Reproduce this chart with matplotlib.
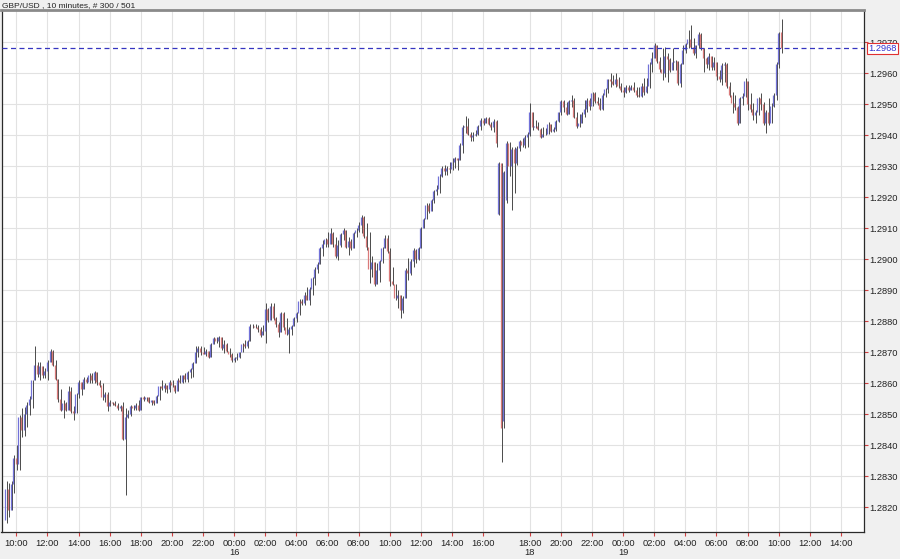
import matplotlib
matplotlib.use("Agg")
import matplotlib.pyplot as plt
import matplotlib.transforms as mtransforms
import numpy as np
import pandas as pd

plt.rcParams['font.family'] = ['Liberation Sans', 'DejaVu Sans']

# ---------------- data ----------------
title_text = "GBP/USD , 10 minutes, # 300 / 501"
session_starts = ["2018-11-15 09:20", "2018-11-18 16:00"]
session_lengths = [190, 110]
future_slots = 31          # empty slots shown to the right of the last bar
last_price = 1.2968
y_ticks = [1.2820, 1.2830, 1.2840, 1.2850, 1.2860, 1.2870, 1.2880, 1.2890,
           1.2900, 1.2910, 1.2920, 1.2930, 1.2940, 1.2950, 1.2960, 1.2970]

opens = [
 1.2816, 1.2826, 1.2819, 1.28275, 1.2836, 1.2834, 1.2849, 1.2845, 1.2850, 1.2853,
 1.2855, 1.2861, 1.2866, 1.2863, 1.28655, 1.28625, 1.2864, 1.2867, 1.28705, 1.2866,
 1.28615, 1.2855, 1.28515, 1.28535, 1.28515, 1.28575, 1.2851, 1.28505, 1.28565, 1.28605,
 1.2858, 1.28615, 1.28605, 1.28625, 1.2861, 1.28635, 1.28605, 1.28595, 1.28555, 1.28565,
 1.28525, 1.2854, 1.28535, 1.2853, 1.2852, 1.28525, 1.2842, 1.2849, 1.2850, 1.28525,
 1.2852, 1.2853, 1.28515, 1.28555, 1.2855, 1.28555, 1.2854, 1.28545, 1.28535, 1.2856,
 1.2859, 1.28585, 1.28595, 1.2858, 1.28605, 1.28595, 1.28575, 1.2861, 1.28605, 1.28625,
 1.28615, 1.28635, 1.28645, 1.28665, 1.2870, 1.28715, 1.2870, 1.28695, 1.28705, 1.28685,
 1.28725, 1.28745, 1.28735, 1.2875, 1.28715, 1.28725, 1.28705, 1.28695, 1.28675, 1.2868,
 1.28685, 1.2870, 1.28725, 1.2872, 1.28735, 1.28785, 1.28785, 1.2878, 1.28775, 1.28755,
 1.2877, 1.2884, 1.28805, 1.2885, 1.2881, 1.2879, 1.28765, 1.28825, 1.2878, 1.2876,
 1.28775, 1.28785, 1.2881, 1.28825, 1.28865, 1.2886, 1.28885, 1.2887, 1.28905, 1.2894,
 1.2897, 1.28985, 1.29035, 1.2905, 1.29065, 1.2905, 1.29085, 1.2905, 1.2901, 1.29045,
 1.2908, 1.29095, 1.2904, 1.2906, 1.29035, 1.29085, 1.29095, 1.2911, 1.29135, 1.29075,
 1.2904, 1.2897, 1.2899, 1.2892, 1.28965, 1.28995, 1.29035, 1.2907, 1.29025, 1.2893,
 1.2892, 1.28875, 1.28885, 1.28835, 1.28875, 1.28965, 1.28955, 1.28995, 1.2903, 1.2900,
 1.29035, 1.2910, 1.2913, 1.29175, 1.29155, 1.2919, 1.2922, 1.29225, 1.2927, 1.29295,
 1.29285, 1.29295, 1.2929, 1.29315, 1.29325, 1.2932, 1.2937, 1.29425, 1.2943, 1.29405,
 1.29395, 1.2940, 1.29405, 1.2943, 1.2945, 1.2944, 1.29455, 1.29435, 1.29425, 1.29445,
 1.29145, 1.2931, 1.28479, 1.2919, 1.29375, 1.2930, 1.29355, 1.2931, 1.2936, 1.2938,
 1.2937, 1.29395, 1.29405, 1.29475, 1.29425, 1.2943, 1.2942, 1.29395, 1.29405, 1.29405,
 1.29435, 1.29415, 1.2942, 1.29445, 1.29475, 1.2951, 1.2949, 1.2947, 1.2951, 1.29515,
 1.2946, 1.2943, 1.2944, 1.2947, 1.29485, 1.29515, 1.29495, 1.29535, 1.2951, 1.29505,
 1.29485, 1.2953, 1.2955, 1.2958, 1.29575, 1.29565, 1.2958, 1.2956, 1.29545, 1.2954,
 1.29555, 1.29545, 1.29555, 1.29545, 1.2953, 1.29525, 1.2956, 1.2954, 1.2956, 1.2963,
 1.2965, 1.2969, 1.2964, 1.29615, 1.2960, 1.29655, 1.29645, 1.2961, 1.29635, 1.2964,
 1.2957, 1.2963, 1.29675, 1.29695, 1.2971, 1.29685, 1.29665, 1.2969, 1.29725, 1.2968,
 1.2965, 1.2963, 1.29655, 1.2962, 1.29635, 1.2959, 1.2958, 1.29625, 1.2963, 1.2956,
 1.2953, 1.29505, 1.2949, 1.2944, 1.2952, 1.29525, 1.29575, 1.2950, 1.29485, 1.29465,
 1.29475, 1.2952, 1.2950, 1.2944, 1.29475, 1.2944, 1.29495, 1.2953, 1.2963, 1.29734,
]

highs = [
 1.28283, 1.28277, 1.28283, 1.28369, 1.28401, 1.28498, 1.28519, 1.28523, 1.28541, 1.28559,
 1.28611, 1.2872, 1.2867, 1.28668, 1.28655, 1.28648, 1.28675, 1.2871, 1.28707, 1.28675,
 1.28615, 1.28581, 1.28546, 1.28541, 1.28591, 1.28589, 1.28525, 1.28568, 1.28611, 1.28605,
 1.28621, 1.28621, 1.28632, 1.28632, 1.28641, 1.28635, 1.28611, 1.2860, 1.28573, 1.28573,
 1.28546, 1.28541, 1.28544, 1.28535, 1.2853, 1.28541, 1.28519, 1.28514, 1.2853, 1.2853,
 1.28535, 1.28546, 1.28557, 1.2856, 1.28557, 1.28555, 1.28546, 1.28545, 1.28562, 1.28591,
 1.28611, 1.2860, 1.28595, 1.28611, 1.28611, 1.28595, 1.28616, 1.28625, 1.28627, 1.28632,
 1.28638, 1.28648, 1.2867, 1.2872, 1.2872, 1.2872, 1.28718, 1.28709, 1.28705, 1.28729,
 1.2875, 1.28748, 1.28752, 1.2875, 1.28739, 1.28729, 1.28712, 1.28696, 1.28686, 1.28696,
 1.28702, 1.28729, 1.28739, 1.28739, 1.28791, 1.28791, 1.28791, 1.28788, 1.28782, 1.28788,
 1.2886, 1.28842, 1.28858, 1.28858, 1.28815, 1.28799, 1.28831, 1.28831, 1.28809, 1.28782,
 1.28788, 1.28815, 1.28831, 1.28871, 1.28871, 1.28895, 1.28909, 1.28909, 1.28944, 1.28976,
 1.28992, 1.29041, 1.29062, 1.29068, 1.29089, 1.2910, 1.29089, 1.29073, 1.29062, 1.29084,
 1.29102, 1.29095, 1.29073, 1.29065, 1.29089, 1.2910, 1.29121, 1.29143, 1.29138, 1.29116,
 1.29089, 1.29009, 1.2899, 1.28987, 1.28998, 1.29041, 1.29078, 1.29078, 1.29035, 1.28976,
 1.2892, 1.28901, 1.28885, 1.2888, 1.28971, 1.29003, 1.2900, 1.29035, 1.29032, 1.2904,
 1.29105, 1.29132, 1.29181, 1.29181, 1.29194, 1.29222, 1.2924, 1.29275, 1.29301, 1.29304,
 1.29301, 1.29315, 1.29326, 1.29331, 1.29326, 1.29374, 1.29433, 1.29462, 1.29455, 1.29412,
 1.29412, 1.29417, 1.29433, 1.29455, 1.29455, 1.2946, 1.2946, 1.29444, 1.29452, 1.29449,
 1.29315, 1.2931, 1.29283, 1.2938, 1.29378, 1.29363, 1.29363, 1.29365, 1.29385, 1.2939,
 1.29401, 1.29412, 1.29503, 1.29476, 1.29449, 1.29444, 1.29422, 1.29427, 1.29422, 1.29444,
 1.29437, 1.29427, 1.29449, 1.29476, 1.29513, 1.29515, 1.29508, 1.29513, 1.2953, 1.2952,
 1.29476, 1.2947, 1.29476, 1.29513, 1.2952, 1.2952, 1.2954, 1.29538, 1.29524, 1.29519,
 1.29535, 1.29551, 1.29583, 1.2960, 1.29594, 1.2960, 1.29589, 1.29567, 1.29556, 1.29562,
 1.29562, 1.29562, 1.29573, 1.29556, 1.29556, 1.29567, 1.29584, 1.29584, 1.29637, 1.2967,
 1.29696, 1.2969, 1.29653, 1.2968, 1.29686, 1.29664, 1.29648, 1.2968, 1.29643, 1.2964,
 1.29632, 1.29691, 1.29696, 1.29739, 1.29756, 1.29713, 1.29691, 1.29734, 1.29729, 1.2968,
 1.29653, 1.29664, 1.29655, 1.29653, 1.29635, 1.2961, 1.29632, 1.29637, 1.29632, 1.29573,
 1.29541, 1.2953, 1.29495, 1.29524, 1.29535, 1.29584, 1.29575, 1.29535, 1.29503, 1.29481,
 1.29524, 1.29535, 1.29508, 1.29481, 1.29519, 1.29503, 1.29535, 1.29637, 1.29734, 1.29775,
]

lows = [
 1.28148, 1.2817, 1.2819, 1.28245, 1.2832, 1.2832, 1.28428, 1.2843, 1.2846, 1.28498,
 1.28519, 1.2861, 1.28621, 1.28611, 1.28616, 1.28616, 1.28611, 1.2867, 1.28654, 1.28611,
 1.28541, 1.28509, 1.28487, 1.28509, 1.28514, 1.28503, 1.28482, 1.28505, 1.28552, 1.28562,
 1.2858, 1.2860, 1.2860, 1.2860, 1.2860, 1.28595, 1.28589, 1.28546, 1.28541, 1.28509,
 1.28525, 1.2853, 1.28525, 1.28514, 1.28509, 1.28417, 1.28238, 1.28487, 1.28495, 1.28514,
 1.28514, 1.28509, 1.28515, 1.28544, 1.28544, 1.28535, 1.2853, 1.2853, 1.28535, 1.28546,
 1.28578, 1.28573, 1.2857, 1.28573, 1.28589, 1.28568, 1.28575, 1.2860, 1.2860, 1.28605,
 1.28605, 1.28616, 1.28621, 1.28664, 1.28686, 1.28691, 1.28693, 1.28688, 1.2868, 1.28685,
 1.28725, 1.28729, 1.28718, 1.28707, 1.28696, 1.28702, 1.28686, 1.2867, 1.2867, 1.28675,
 1.2868, 1.2870, 1.28712, 1.28712, 1.28735, 1.28777, 1.28777, 1.28766, 1.2875, 1.28755,
 1.28729, 1.28799, 1.28805, 1.28804, 1.28782, 1.2875, 1.28765, 1.28772, 1.28755, 1.28696,
 1.28755, 1.28785, 1.28799, 1.2882, 1.28852, 1.28852, 1.28868, 1.28852, 1.28885, 1.28917,
 1.28955, 1.28985, 1.29009, 1.29041, 1.29041, 1.2905, 1.29041, 1.29003, 1.28998, 1.29041,
 1.29062, 1.29036, 1.29014, 1.2903, 1.29035, 1.29073, 1.29089, 1.29084, 1.29068, 1.2903,
 1.28922, 1.28944, 1.28912, 1.2892, 1.28928, 1.28987, 1.29035, 1.29019, 1.28912, 1.28917,
 1.28869, 1.28842, 1.2881, 1.28826, 1.28875, 1.28933, 1.2895, 1.28976, 1.28987, 1.28998,
 1.29035, 1.2910, 1.2913, 1.29148, 1.29154, 1.29181, 1.29208, 1.29213, 1.29265, 1.29272,
 1.29272, 1.29277, 1.29288, 1.29294, 1.29288, 1.2932, 1.29342, 1.29406, 1.29401, 1.2938,
 1.2938, 1.29396, 1.29401, 1.29417, 1.29433, 1.29439, 1.29433, 1.29417, 1.29411, 1.29363,
 1.29143, 1.28347, 1.28455, 1.2918, 1.29267, 1.29159, 1.29213, 1.29305, 1.2935, 1.29363,
 1.29358, 1.29363, 1.29396, 1.29417, 1.29422, 1.29417, 1.2939, 1.29393, 1.2940, 1.29405,
 1.29411, 1.2941, 1.29415, 1.29443, 1.29465, 1.29476, 1.29465, 1.29468, 1.29492, 1.29454,
 1.29422, 1.29425, 1.2944, 1.2946, 1.29476, 1.2948, 1.29495, 1.29503, 1.29497, 1.29481,
 1.2948, 1.29524, 1.29535, 1.29556, 1.29562, 1.29556, 1.29551, 1.2954, 1.29524, 1.29535,
 1.2954, 1.29545, 1.2954, 1.29524, 1.29524, 1.29524, 1.2953, 1.29535, 1.29551, 1.29605,
 1.2965, 1.29632, 1.29605, 1.29578, 1.29589, 1.29573, 1.29605, 1.2961, 1.2961, 1.29562,
 1.29557, 1.2963, 1.29664, 1.2968, 1.2968, 1.29659, 1.29648, 1.2968, 1.29675, 1.29605,
 1.29616, 1.2961, 1.2961, 1.2961, 1.29578, 1.29573, 1.29562, 1.29573, 1.29551, 1.29524,
 1.29471, 1.29481, 1.29433, 1.2944, 1.29498, 1.29524, 1.29481, 1.29476, 1.29449, 1.29438,
 1.29465, 1.29481, 1.29433, 1.29406, 1.29433, 1.2944, 1.2949, 1.29514, 1.29616, 1.29665,
]

closes = [
 1.2826, 1.2819, 1.28275, 1.2836, 1.2834, 1.2849, 1.2845, 1.2850, 1.2853, 1.2855,
 1.2861, 1.2866, 1.2863, 1.28655, 1.28625, 1.2864, 1.2867, 1.28705, 1.2866, 1.28615,
 1.2855, 1.28515, 1.28535, 1.28515, 1.28575, 1.2851, 1.28505, 1.28565, 1.28605, 1.2858,
 1.28615, 1.28605, 1.28625, 1.2861, 1.28635, 1.28605, 1.28595, 1.28555, 1.28565, 1.28525,
 1.2854, 1.28535, 1.2853, 1.2852, 1.28525, 1.2842, 1.2849, 1.2850, 1.28525, 1.2852,
 1.2853, 1.28515, 1.28555, 1.2855, 1.28555, 1.2854, 1.28545, 1.28535, 1.2856, 1.2859,
 1.28585, 1.28595, 1.2858, 1.28605, 1.28595, 1.28575, 1.2861, 1.28605, 1.28625, 1.28615,
 1.28635, 1.28645, 1.28665, 1.2870, 1.28715, 1.2870, 1.28695, 1.28705, 1.28685, 1.28725,
 1.28745, 1.28735, 1.2875, 1.28715, 1.28725, 1.28705, 1.28695, 1.28675, 1.2868, 1.28685,
 1.2870, 1.28725, 1.2872, 1.28735, 1.28785, 1.28785, 1.2878, 1.28775, 1.28755, 1.2877,
 1.2884, 1.28805, 1.2885, 1.2881, 1.2879, 1.28765, 1.28825, 1.2878, 1.2876, 1.28775,
 1.28785, 1.2881, 1.28825, 1.28865, 1.2886, 1.28885, 1.2887, 1.28905, 1.2894, 1.2897,
 1.28985, 1.29035, 1.2905, 1.29065, 1.2905, 1.29085, 1.2905, 1.2901, 1.29045, 1.2908,
 1.29095, 1.2904, 1.2906, 1.29035, 1.29085, 1.29095, 1.2911, 1.29135, 1.29075, 1.2904,
 1.2897, 1.2899, 1.2892, 1.28965, 1.28995, 1.29035, 1.2907, 1.29025, 1.2893, 1.2892,
 1.28875, 1.28885, 1.28835, 1.28875, 1.28965, 1.28955, 1.28995, 1.2903, 1.2900, 1.29035,
 1.2910, 1.2913, 1.29175, 1.29155, 1.2919, 1.2922, 1.29225, 1.2927, 1.29295, 1.29285,
 1.29295, 1.2929, 1.29315, 1.29325, 1.2932, 1.2937, 1.29425, 1.2943, 1.29405, 1.29395,
 1.2940, 1.29405, 1.2943, 1.2945, 1.2944, 1.29455, 1.29435, 1.29425, 1.29445, 1.29375,
 1.2931, 1.28455, 1.2928, 1.29375, 1.2930, 1.29355, 1.2931, 1.2936, 1.2938, 1.2937,
 1.29395, 1.29405, 1.29475, 1.29425, 1.2943, 1.2942, 1.29395, 1.29405, 1.29405, 1.29435,
 1.29415, 1.2942, 1.29445, 1.29475, 1.2951, 1.2949, 1.2947, 1.2951, 1.29515, 1.2946,
 1.2943, 1.2944, 1.2947, 1.29485, 1.29515, 1.29495, 1.29535, 1.2951, 1.29505, 1.29485,
 1.2953, 1.2955, 1.2958, 1.29575, 1.29565, 1.2958, 1.2956, 1.29545, 1.2954, 1.29555,
 1.29545, 1.29555, 1.29545, 1.2953, 1.29525, 1.2956, 1.2954, 1.2956, 1.2963, 1.2965,
 1.2969, 1.2964, 1.29615, 1.2960, 1.29655, 1.29645, 1.2961, 1.29635, 1.2964, 1.2957,
 1.2963, 1.29675, 1.29695, 1.2971, 1.29685, 1.29665, 1.2969, 1.29725, 1.2968, 1.2965,
 1.2963, 1.29655, 1.2962, 1.29635, 1.2959, 1.2958, 1.29625, 1.2963, 1.2956, 1.2953,
 1.29505, 1.2949, 1.2944, 1.2952, 1.29525, 1.29575, 1.2950, 1.29485, 1.29465, 1.29475,
 1.2952, 1.2950, 1.2944, 1.29475, 1.2944, 1.29495, 1.2953, 1.2963, 1.2973, 1.2968,
]

# ---------------- styling ----------------
BG = '#f0f0f0'
UP = '#7272d8'
DOWN = '#da7a7a'
WICK = '#4a4a4a'
GRID = '#e2e2e2'
TXT = '#222222'
TICK = '#d04040'

W, H = 900, 559
fig = plt.figure(figsize=(W / 100, H / 100), dpi=100, facecolor=BG)
L, R, T, B = 1.5, 863.5, 10.0, 532.0
ax = fig.add_axes([L / W, 1 - B / H, (R - L) / W, (B - T) / H])
ax.set_facecolor('white')

# time axis (bar slots) -------------------------------------------
slot_times = []
for k, (start, n) in enumerate(zip(session_starts, session_lengths)):
    extra = future_slots if k == len(session_starts) - 1 else 0
    slot_times += list(pd.date_range(start, periods=n + extra, freq='10min'))
n_bars = len(opens)
x = np.arange(n_bars)

o = np.array(opens); h = np.array(highs); lo = np.array(lows); c = np.array(closes)
hi_w = np.maximum.reduce([h, o, c]); lo_w = np.minimum.reduce([lo, o, c])
up = c >= o

dx = 0.22
ax.vlines(x + dx, lo_w, hi_w, color=WICK, lw=0.7, zorder=3)
ax.vlines(x[up] - dx, o[up], c[up], color=UP, lw=0.9, zorder=4)
ax.vlines(x[~up] - dx, c[~up], o[~up], color=DOWN, lw=0.9, zorder=4)

# x ticks: even hours, at least 12 slots apart
tick_pos, tick_lab = [], []
last_idx, last_day = None, None
for i, t in enumerate(slot_times):
    if t.minute == 0 and t.hour % 2 == 0:
        if last_idx is not None and i - last_idx < 12:
            continue
        lab = t.strftime('%H:%M')
        if last_day is not None and t.day != last_day:
            lab += '\n%d' % t.day
        tick_pos.append(i); tick_lab.append(lab)
        last_idx, last_day = i, t.day

ax.set_xlim(-1.74, len(slot_times) - 0.3)
ax.set_ylim(1.28120, 1.29804)

ax.set_xticks(tick_pos)
ax.set_xticklabels(tick_lab, fontsize=6.7, color=TXT, linespacing=1.05)
ax.yaxis.tick_right()
ax.set_yticks(y_ticks)
ax.set_yticklabels(['%.4f' % v for v in y_ticks], fontsize=6.7, color=TXT)
ax.tick_params(axis='x', color=TICK, length=3, width=0.8, pad=2)
ax.tick_params(axis='y', color=TICK, length=3, width=0.8, pad=1)

ax.grid(True, color=GRID, lw=0.8, zorder=0)
ax.set_axisbelow(True)

for s in ['left', 'right', 'bottom']:
    ax.spines[s].set_color('#2a2a2a'); ax.spines[s].set_linewidth(0.9)
ax.spines['top'].set_color('#8a8a8a'); ax.spines['top'].set_linewidth(2.0)

# last price line and tag (the tag partly covers the 1.2970 label, as in the source)
ax.axhline(last_price, color='#3535c0', lw=0.9, ls=(0, (4, 2.8)), zorder=5)
trans = mtransforms.blended_transform_factory(ax.transAxes, ax.transData)
ax.text(1.006, last_price, '%.4f' % last_price, transform=trans, fontsize=6.7,
        color='#3030d0', ha='left', va='center', zorder=10, clip_on=False,
        bbox=dict(boxstyle='square,pad=0.15', fc='white', ec='#e03030', lw=0.8))

fig.text(2 / W, 1 - 5.5 / H, title_text, fontsize=6.0, color=TXT, ha='left', va='center')

fig.savefig('out.png', dpi=100, facecolor=BG)
